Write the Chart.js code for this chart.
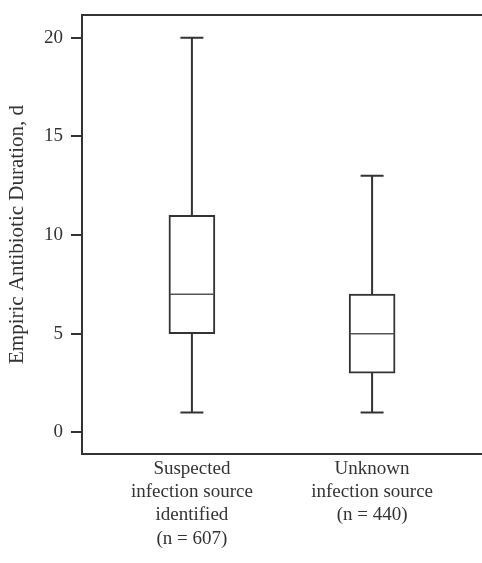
<!DOCTYPE html>
<html>
<head>
<meta charset="utf-8">
<script src="https://cdn.jsdelivr.net/npm/chart.js@4/dist/chart.umd.min.js"></script>
<style>
html,body{margin:0;padding:0;background:#fff;}
canvas{display:block;}
</style>
</head>
<body>
<canvas id="c" width="482" height="563"></canvas>
<script>
// ---- data ----
const categories = [
  ["Suspected", "infection source", "identified", "(n = 607)"],
  ["Unknown", "infection source", "(n = 440)"]
];
const mins    = [1, 1];
const q1s     = [5, 3];
const medians = [7, 5];
const q3s     = [11, 7];
const maxs    = [20, 13];
const yTicks  = [0, 5, 10, 15, 20];
const yTitle  = "Empiric Antibiotic Duration, d";

const INK = '#333333';
const FONT = "'Liberation Serif', 'Times New Roman', serif";

const boxData = categories.map((c, i) => ({ x: i + 1, y: [q1s[i], q3s[i]] }));

const boxPlugin = {
  id: 'boxExtras',
  afterDatasetsDraw(chart) {
    const { ctx, scales: { x, y } } = chart;
    ctx.save();
    ctx.strokeStyle = INK;
    categories.forEach((c, i) => {
      const cx = x.getPixelForValue(i + 1);
      const capHalf = 11.5;
      const boxHalf = 23;
      ctx.lineWidth = 2;
      ctx.beginPath();
      ctx.moveTo(cx, y.getPixelForValue(q3s[i]));
      ctx.lineTo(cx, y.getPixelForValue(maxs[i]));
      ctx.moveTo(cx - capHalf, y.getPixelForValue(maxs[i]));
      ctx.lineTo(cx + capHalf, y.getPixelForValue(maxs[i]));
      ctx.moveTo(cx, y.getPixelForValue(q1s[i]));
      ctx.lineTo(cx, y.getPixelForValue(mins[i]));
      ctx.moveTo(cx - capHalf, y.getPixelForValue(mins[i]));
      ctx.lineTo(cx + capHalf, y.getPixelForValue(mins[i]));
      ctx.stroke();
      ctx.lineWidth = 1.5;
      ctx.strokeStyle = '#555555';
      ctx.beginPath();
      const my = y.getPixelForValue(medians[i]);
      ctx.moveTo(cx - boxHalf + 1, my);
      ctx.lineTo(cx + boxHalf - 1, my);
      ctx.stroke();
      ctx.strokeStyle = INK;
    });
    const a = chart.chartArea;
    ctx.lineWidth = 2;
    ctx.beginPath();
    ctx.moveTo(a.left - 1, a.top);
    ctx.lineTo(a.right, a.top);
    ctx.stroke();
    ctx.restore();
  }
};

new Chart(document.getElementById('c'), {
  type: 'bar',
  data: {
    datasets: [{
      data: boxData,
      backgroundColor: '#ffffff',
      borderColor: INK,
      borderWidth: 2,
      borderSkipped: false,
      barThickness: 46
    }]
  },
  options: {
    responsive: false,
    animation: false,
    layout: { padding: { top: 15, right: 0, left: 0, bottom: 0 } },
    plugins: { legend: { display: false }, tooltip: { enabled: false } },
    scales: {
      x: {
        type: 'linear',
        offset: false,
        min: 0.39,
        max: 2.61,
        afterBuildTicks(s) { s.ticks = categories.map((c, i) => ({ value: i + 1 })); },
        afterFit(s) { s.height = 109; s.paddingLeft = 0; s.paddingRight = 0; },
        ticks: {
          autoSkip: false,
          maxRotation: 0,
          padding: 3,
          color: INK,
          font: { family: FONT, size: 19, lineHeight: 1.23 },
          callback(v) { return categories[Math.round(v) - 1] || ''; }
        },
        grid: { display: false, drawTicks: false, offset: false },
        border: { display: true, color: INK, width: 2 }
      },
      y: {
        type: 'linear',
        min: -1.1,
        max: 21.15,
        afterBuildTicks(s) { s.ticks = yTicks.map(v => ({ value: v })); },
        afterFit(s) { s.width = 82; s.paddingTop = 0; s.paddingBottom = 0; },
        ticks: {
          padding: 8,
          color: INK,
          font: { family: FONT, size: 19 },
          callback(v) { return String(v); }
        },
        grid: { display: true, drawOnChartArea: false, drawTicks: true, tickLength: 11, color: INK, lineWidth: 2 },
        border: { display: true, color: INK, width: 2 },
        title: {
          display: true,
          text: yTitle,
          color: INK,
          font: { family: FONT, size: 21 },
          padding: { top: 5, bottom: 0 }
        }
      }
    }
  },
  plugins: [boxPlugin]
});
</script>
</body>
</html>
